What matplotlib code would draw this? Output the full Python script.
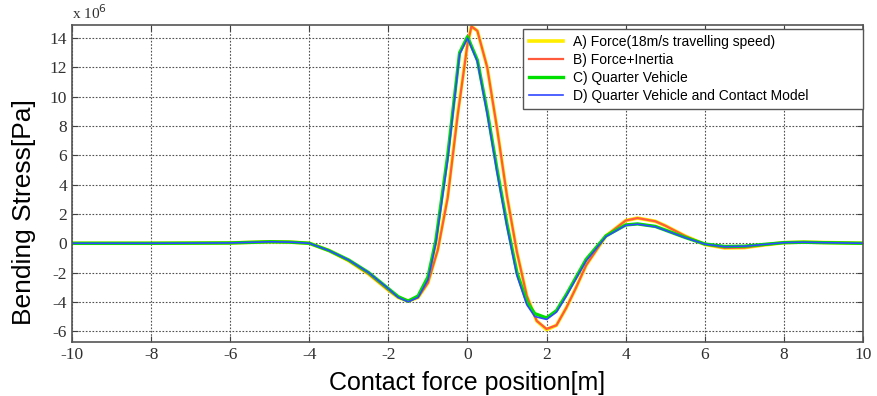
import matplotlib.pyplot as plt

plt.rcParams['axes.unicode_minus'] = False

# position along the rail [m]
x_ab = [-10, -8, -6, -5.5, -5, -4.5, -4, -3.5, -3, -2.5, -2, -1.75, -1.5, -1.25, -1, -0.75,
        -0.5, -0.25, 0, 0.1, 0.25, 0.5, 0.75, 1, 1.25, 1.5, 1.75, 2, 2.25, 2.5, 2.75, 3,
        3.5, 4, 4.3, 4.75, 5, 5.5, 6, 6.5, 7, 7.5, 8, 8.5, 9, 10]
# bending stress, x 10^6 Pa
force = [0, 0, 0.02, 0.06, 0.1, 0.08, 0, -0.5, -1.2, -2.1, -3.2, -3.7, -3.95, -3.7, -2.7, -0.4,
         3.2, 8.8, 13.6, 14.8, 14.5, 12.0, 7.8, 3.2, -0.6, -3.6, -5.3, -5.9, -5.6, -4.4, -3.0, -1.5,
         0.5, 1.55, 1.72, 1.5, 1.2, 0.5, -0.08, -0.32, -0.3, -0.12, 0.04, 0.08, 0.05, 0]
inertia = [0, 0, 0.02, 0.06, 0.1, 0.08, 0, -0.5, -1.2, -2.1, -3.2, -3.7, -3.95, -3.7, -2.7, -0.45,
           3.1, 8.7, 13.6, 14.8, 14.5, 12.0, 7.8, 3.2, -0.6, -3.6, -5.3, -5.85, -5.6, -4.4, -3.0, -1.5,
           0.5, 1.55, 1.72, 1.5, 1.2, 0.5, -0.08, -0.32, -0.3, -0.12, 0.04, 0.08, 0.05, 0]

x_cd = [-10, -8, -6, -5.5, -5, -4.5, -4, -3.5, -3, -2.5, -2, -1.75, -1.5, -1.25, -1, -0.8,
        -0.5, -0.2, 0, 0.25, 0.5, 0.75, 1, 1.25, 1.5, 1.7, 2, 2.25, 2.5, 2.75, 3,
        3.5, 4, 4.3, 4.75, 5, 5.5, 6, 6.5, 7, 7.5, 8, 8.5, 9, 10]
quarter = [0, 0, 0.02, 0.06, 0.1, 0.08, 0, -0.5, -1.15, -2.0, -3.1, -3.65, -3.95, -3.6, -2.3, 0.2,
           6.0, 13.0, 14.1, 12.5, 9.0, 5.0, 1.3, -2.0, -4.0, -4.8, -5.1, -4.6, -3.5, -2.3, -1.1,
           0.5, 1.25, 1.32, 1.15, 0.9, 0.4, -0.05, -0.22, -0.2, -0.08, 0.04, 0.07, 0.04, 0]
contact = [0, 0, 0.02, 0.06, 0.1, 0.08, 0, -0.5, -1.15, -2.0, -3.1, -3.7, -4.0, -3.7, -2.5, 0.0,
           5.7, 12.9, 14.0, 12.4, 8.8, 4.8, 1.1, -2.2, -4.2, -5.0, -5.2, -4.7, -3.6, -2.4, -1.2,
           0.45, 1.22, 1.3, 1.12, 0.88, 0.38, -0.06, -0.23, -0.2, -0.08, 0.04, 0.07, 0.04, 0]

labels = ['A) Force(18m/s travelling speed)', 'B) Force+Inertia',
          'C) Quarter Vehicle', 'D) Quarter Vehicle and Contact Model']

fig = plt.figure(figsize=(8.77, 3.96), dpi=100)
ax = fig.add_axes([0.0821, 0.1364, 0.9019, 0.8005])

ax.plot(x_ab, force, color='#ffee00', lw=2.6, label=labels[0])
ax.plot(x_ab, inertia, color='#ff5a3c', lw=1.6, label=labels[1])
ax.plot(x_cd, quarter, color='#00e000', lw=2.4, label=labels[2])
ax.plot(x_cd, contact, color='#3048ff', lw=1.2, label=labels[3])

ax.set_xlim(-10, 10)
ax.set_ylim(-6.74, 14.9)
ax.set_xticks(range(-10, 11, 2))
ax.set_yticks(range(-6, 15, 2))
ax.grid(True, linestyle=(0, (1.5, 1.5)), color='#505050', lw=0.8)
ax.tick_params(direction='in', top=True, right=True, length=4, color='#404040')
for lab in ax.get_xticklabels() + ax.get_yticklabels():
    lab.set_family('Liberation Serif')
    lab.set_fontsize(12.5)
    lab.set_color('#303030')
for s in ax.spines.values():
    s.set_color('#555555')
    s.set_linewidth(1.2)

ax.text(0, 1.008, r'x 10$^6$', transform=ax.transAxes, family='Liberation Serif',
        fontsize=11, color='#303030', va='bottom')
ax.set_xlabel('Contact force position[m]', family='Liberation Sans', fontsize=18, labelpad=6)
ax.set_ylabel('Bending Stress[Pa]', family='Liberation Sans', fontsize=19)
ax.yaxis.set_label_coords(-0.046, 0.41)

leg = ax.legend(loc='upper left', bbox_to_anchor=(0.570, 0.988, 0.4295, 0.0), mode='expand',
                borderaxespad=0, prop={'family': 'Liberation Sans', 'size': 10},
                fancybox=False, framealpha=1, edgecolor='#555555', handlelength=2.45,
                handletextpad=0.7, labelspacing=0.28, borderpad=0.45)
leg.get_frame().set_linewidth(1.0)

fig.savefig('out.png', dpi=100)
